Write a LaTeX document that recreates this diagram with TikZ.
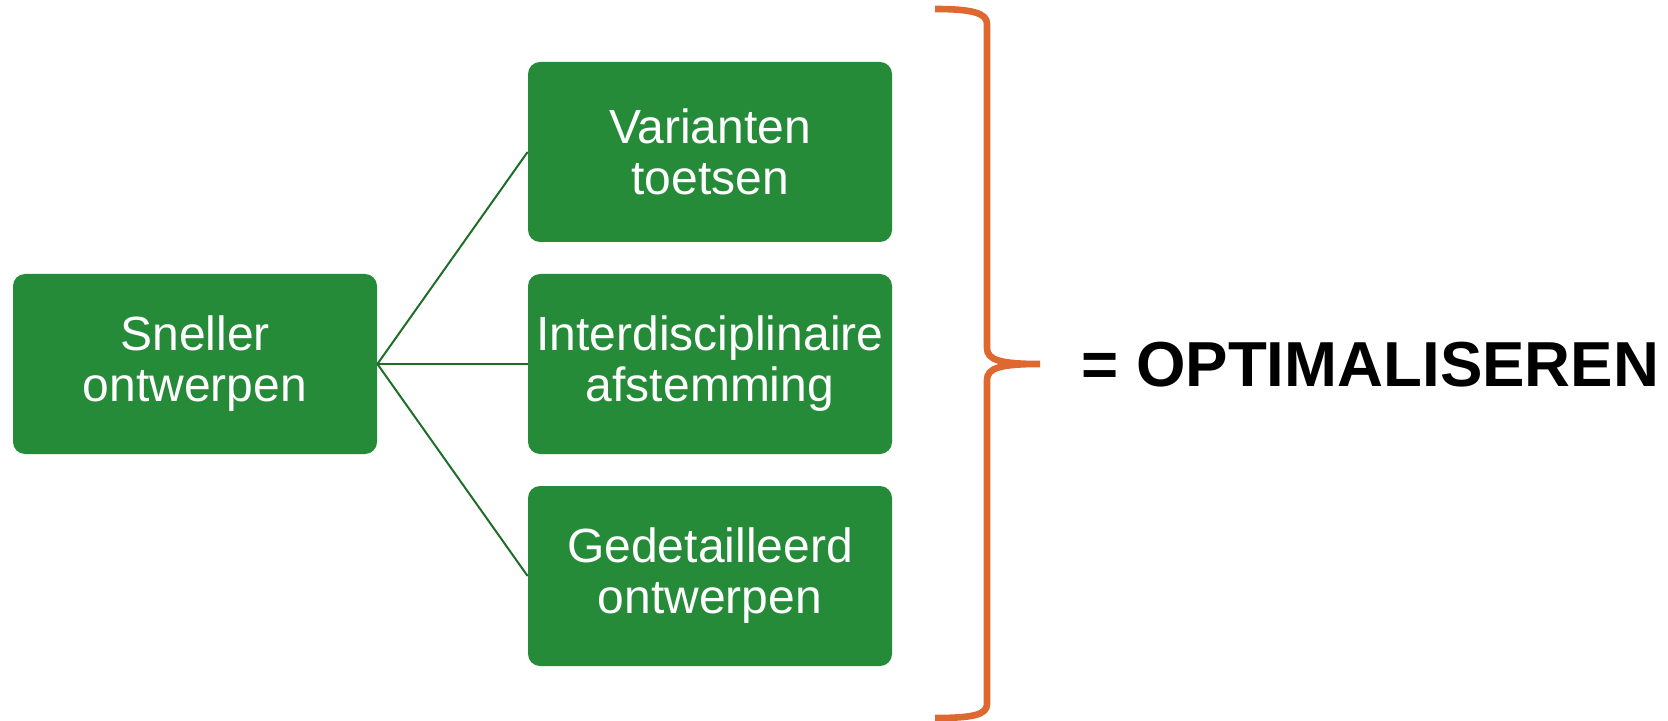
\documentclass[tikz,border=0pt]{standalone}
\usepackage{fontspec}
\setmainfont{Liberation Sans}
\usepackage{xcolor}
\usepackage{tikz}
\usetikzlibrary{shapes,arrows,positioning}

\definecolor{boxgreen}{RGB}{37,139,57}
\definecolor{linegreen}{RGB}{30,110,42}
\definecolor{braceorange}{RGB}{222,104,48}

\begin{document}
\begin{tikzpicture}[x=0.5pt,y=-0.5pt,
    greenbox/.style={rectangle, rounded corners=6pt, fill=boxgreen, text=white,
      minimum width=182pt, minimum height=90pt, inner sep=0pt, align=center,
      font=\fontsize{24}{25.5}\selectfont},
    link/.style={draw=linegreen, line width=1pt}]
    \useasboundingbox (0,0) rectangle (1668,721);
    \node[greenbox] (sneller) at (195,364) {Sneller\\ontwerpen};
    \node[greenbox] (varianten) at (710,152) {Varianten\\toetsen};
    \node[greenbox] (afstemming) at (710,364) {Interdisciplinaire\\afstemming};
    \node[greenbox] (detail) at (710,576) {Gedetailleerd\\ontwerpen};
    \draw[link] (sneller.east) -- (varianten.west);
    \draw[link] (sneller.east) -- (afstemming.west);
    \draw[link] (sneller.east) -- (detail.west);
    % brace
    \draw[braceorange, line width=3.3pt]
      (935,9) .. controls (972,9) and (987,13) .. (987,24) -- (987,348)
      .. controls (987,360) and (1000,364) .. (1040,364)
      .. controls (1000,364) and (987,368) .. (987,380) -- (987,704)
      .. controls (987,715) and (972,718) .. (935,718);
    \node[anchor=west, inner sep=0pt, font=\fontsize{31.8}{36}\selectfont\bfseries]
      (optimaal) at (1081,365) {= OPTIMALISEREN};
  \end{tikzpicture}
\end{document}
